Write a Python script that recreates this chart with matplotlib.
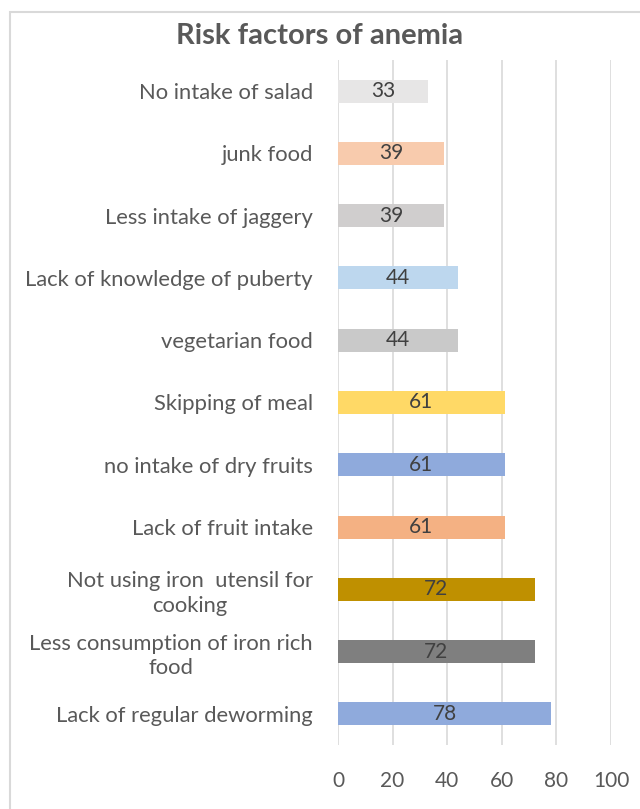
import matplotlib.pyplot as plt
from matplotlib.patches import Rectangle

plt.rcParams['font.family'] = ['Lato', 'DejaVu Sans']

# bottom to top
labels = ['Lack of regular deworming',
          'Less consumption of iron rich\nfood',
          'Not using iron  utensil for\ncooking',
          'Lack of fruit intake',
          'no intake of dry fruits',
          'Skipping of meal',
          'vegetarian food',
          'Lack of knowledge of puberty',
          'Less intake of jaggery',
          'junk food',
          'No intake of salad']
values = [78, 72, 72, 61, 61, 61, 44, 44, 39, 39, 33]
colors = ['#8FAADC', '#7F7F7F', '#BF9000', '#F4B183', '#8FAADC', '#FFD966',
          '#C9C9C9', '#BDD7EE', '#D0CECE', '#F8CBAD', '#E7E6E6']
xticks = [0, 20, 40, 60, 80, 100]

fig = plt.figure(figsize=(6.4, 8.09), dpi=100)
ax = fig.add_axes([338 / 640, 1 - 745 / 809, 273 / 640, 685 / 809])

y = range(len(labels))
bars = ax.barh(y, values, height=0.37, color=colors)
for b, v in zip(bars, values):
    ax.text(v / 2, b.get_y() + b.get_height() / 2, str(v), ha='center', va='center',
            fontsize=15, color='#404040')

ax.set_xlim(0, 100)
ax.set_ylim(-0.5, len(labels) - 0.5)
ax.set_xticks(xticks)
ax.set_yticks(list(y))
ax.set_yticklabels(labels, multialignment='center', linespacing=1.3, fontsize=15.8)
ax.tick_params(axis='both', length=0, labelcolor='#595959')
ax.tick_params(axis='x', pad=19, labelsize=15)
ax.tick_params(axis='y', pad=18)
ax.grid(axis='x', color='#D9D9D9', lw=1.2)
ax.set_axisbelow(True)
for s in ax.spines.values():
    s.set_visible(False)

fig.text(0.5, 1 - 36 / 809, 'Risk factors of anemia', ha='center', va='center',
         fontsize=21, fontweight='bold', color='#595959')

fig.patches.append(Rectangle((10 / 640, -0.05), 1.1, 1.05 - 12 / 809, transform=fig.transFigure,
                             fill=False, edgecolor='#D9D9D9', lw=1.5))

fig.savefig('out.png', dpi=100)
